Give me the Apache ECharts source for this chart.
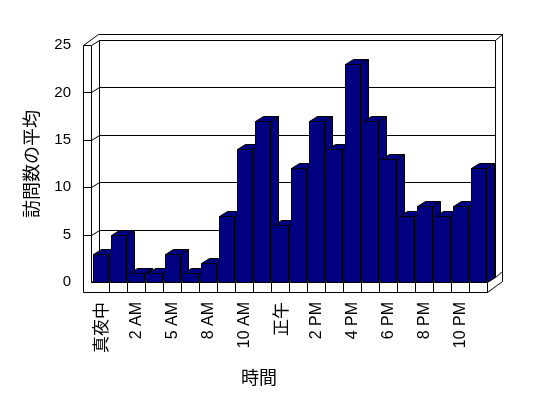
<!DOCTYPE html>
<html>
<head>
<meta charset="utf-8">
<script src="https://cdn.jsdelivr.net/npm/echarts@6/dist/echarts.min.js"></script>
<style>
html,body{margin:0;padding:0;background:#fff;}
#chart{width:548px;height:398px;}
</style>
</head>
<body>
<div id="chart"></div>
<script>
// Data
const categories = ['真夜中','1 AM','2 AM','4 AM','5 AM','7 AM','8 AM','9 AM','10 AM','11 AM','正午',
  '1 PM','2 PM','3 PM','4 PM','5 PM','6 PM','7 PM','8 PM','9 PM','10 PM','11 PM'];
const visits = [3,5,1,1,3,1,2,7,14,17,6,12,17,14,23,17,13,7,8,7,8,12];
const labelStep = 2;        // every other category is labelled
const yMin = 0, yMax = 25, yStep = 5;
const xTitle = '時間';
const yTitle = '訪問数の平均';

const FONT = "'Liberation Sans', 'Noto Sans CJK JP', sans-serif";
const CJK = "'Noto Sans CJK JP', sans-serif";
const DX = 8, DY = -5;      // depth of the 3D box
const TX = 7, TY = -6;      // wall thickness (depth direction)
const LW = 8, FH = 10;      // left wall thickness, floor thickness
const c = v => Math.round(v) + 0.5;

function frameItem(params, api) {
  const cs = params.coordSys;
  const X0 = c(cs.x), X1 = c(cs.x + cs.width), Yt = c(cs.y), Yb = c(cs.y + cs.height);
  const band = api.size([1, 0])[0];
  const st = {fill: null, stroke: '#000', lineWidth: 1};
  const kids = [];
  kids.push({type: 'polygon', shape: {points: [
    [X0 - LW, Yb + FH], [X0 - LW, Yt], [X0 - LW + DX + TX, Yt + DY + TY],
    [X1 + DX + TX, Yt + DY + TY], [X1 + DX + TX, Yb + FH + DY + TY], [X1, Yb + FH]
  ]}, style: {fill: '#fff', stroke: '#000', lineWidth: 1}});
  kids.push({type: 'rect', shape: {x: X0 + DX, y: Yt + DY, width: X1 - X0, height: Yb - Yt}, style: st});
  for (let v = yMin + yStep; v < yMax; v += yStep) {
    const y = c(api.coord([0, v])[1]);
    kids.push({type: 'polyline', shape: {points: [[X0 - LW, y], [X0, y], [X0 + DX, y + DY], [X1 + DX, y + DY]]}, style: st});
  }
  kids.push({type: 'polyline', shape: {points: [[X0 - LW, Yt], [X0, Yt], [X0, Yb], [X1, Yb], [X1, Yb + FH]]}, style: st});
  kids.push({type: 'line', shape: {x1: X0, y1: Yt, x2: X0 + DX, y2: Yt + DY}, style: st});
  kids.push({type: 'line', shape: {x1: X0, y1: Yb, x2: X0 + DX, y2: Yb + DY}, style: st});
  kids.push({type: 'line', shape: {x1: X1 + DX, y1: Yt + DY, x2: X1 + DX + TX, y2: Yt + DY + TY}, style: st});
  kids.push({type: 'polyline', shape: {points: [[X1, Yb], [X1 + DX, Yb + DY], [X1 + DX + TX, Yb + DY + TY]]}, style: st});
  for (let k = 1; k < categories.length; k++) {
    const x = c(cs.x + k * band);
    kids.push({type: 'line', shape: {x1: x, y1: Yb, x2: x, y2: Yb + FH}, style: st});
  }
  return {type: 'group', children: kids};
}

function barItem(params, api) {
  const i = api.value(0), v = api.value(1);
  const p = api.coord([i, v]);
  const b = api.coord([i, 0]);
  const band = api.size([1, 0])[0];
  const w = Math.round(band * 0.83);
  const xl = c(p[0] - w / 2 + 0.5), xr = xl + w;
  const yt = c(p[1]), yb = c(b[1]);
  const st = {fill: '#000080', stroke: '#000', lineWidth: 1};
  return {type: 'group', children: [
    {type: 'polygon', shape: {points: [[xr, yt], [xr + DX, yt + DY], [xr + DX, yb + DY], [xr, yb]]}, style: st},
    {type: 'polygon', shape: {points: [[xl, yt], [xl + DX, yt + DY], [xr + DX, yt + DY], [xr, yt]]}, style: st},
    {type: 'rect', shape: {x: xl, y: yt, width: w, height: yb - yt}, style: st}
  ]};
}

function labelItem(params, api) {
  const i = api.value(0);
  const p = api.coord([i, 0]);
  const text = categories[i];
  const cjk = /[^\x00-\x7F]/.test(text);
  return {type: 'text', x: p[0] + 1, y: p[1] + 20, rotation: Math.PI / 2, silent: true,
    style: {text: text, fontSize: cjk ? 17 : 16, fontFamily: cjk ? CJK : FONT, fill: '#000',
            align: 'right', verticalAlign: 'middle', width: 80, overflow: 'none'}};
}

const labelData = categories.map((name, i) => [i, 0]).filter(d => d[0] % labelStep === 0);

const chart = echarts.init(document.getElementById('chart'), null, {renderer: 'canvas'});
chart.setOption({
  animation: false,
  backgroundColor: '#fff',
  grid: {left: 91, right: 61, top: 45, bottom: 116},
  graphic: [
    {type: 'text', x: 259, y: 377, silent: true,
     style: {text: xTitle, fontSize: 18, fontFamily: CJK, fill: '#000', align: 'center', verticalAlign: 'middle'}},
    {type: 'text', x: 31, y: 164, rotation: Math.PI / 2, silent: true,
     style: {text: yTitle, fontSize: 18, fontFamily: CJK, fill: '#000', align: 'center', verticalAlign: 'middle'}}
  ],
  xAxis: {
    type: 'category', data: categories,
    axisLine: {show: false}, axisTick: {show: false}, splitLine: {show: false},
    axisLabel: {show: false}
  },
  yAxis: {
    type: 'value', min: yMin, max: yMax, interval: yStep,
    axisLine: {show: false}, axisTick: {show: false}, splitLine: {show: false},
    axisLabel: {margin: 20, fontSize: 15, color: '#000', fontFamily: FONT}
  },
  series: [
    {type: 'custom', silent: true, z: 1, clip: false, data: [[0, 0]], renderItem: frameItem},
    {type: 'custom', z: 2, clip: false, data: visits.map((v, i) => [i, v]), encode: {x: 0, y: 1}, renderItem: barItem},
    {type: 'custom', silent: true, z: 3, clip: false, data: labelData, encode: {x: 0, y: 1}, renderItem: labelItem}
  ]
});
</script>
</body>
</html>
